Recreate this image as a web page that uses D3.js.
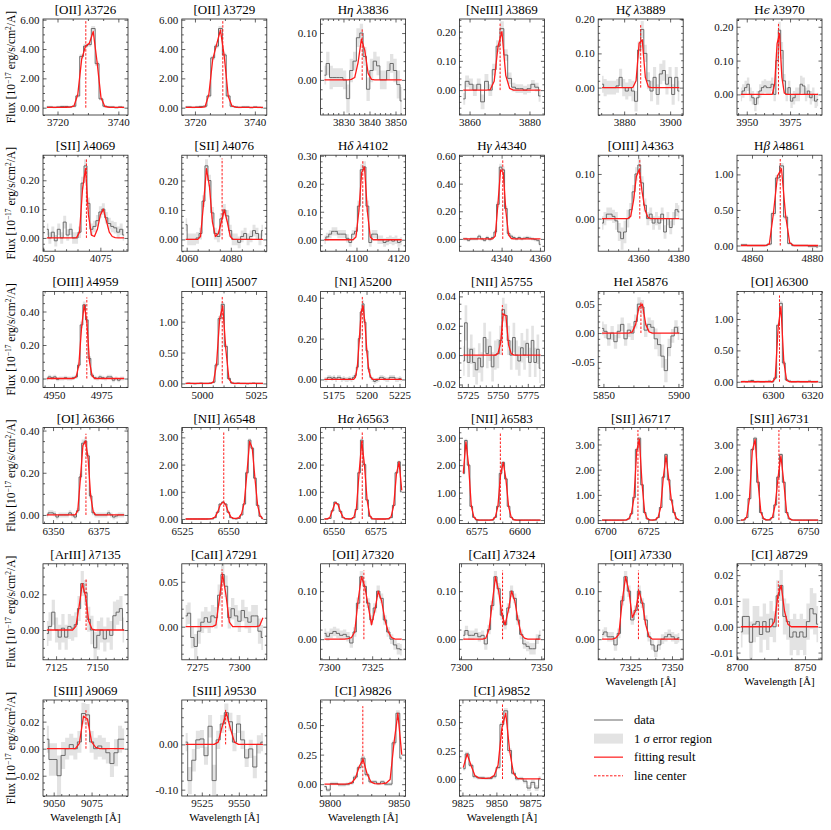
<!DOCTYPE html>
<meta charset="utf-8">
<head>
<script src="https://d3js.org/d3.v7.min.js"></script>
<style>
  body { margin: 0; background: white; }
  text { font-family: "Liberation Serif", "Times New Roman", serif; }
</style>
</head>
<body>
<div id="my_dataviz"></div>
<script>
// ---- line windows ----
const lineSpecies = ["[OII]","[OII]","Hη","[NeIII]","Hζ","Hϵ",
  "[SII]","[SII]","Hδ","Hγ","[OIII]","Hβ",
  "[OIII]","[OIII]","[NI]","[NII]","HeI","[OI]",
  "[OI]","[NII]","Hα","[NII]","[SII]","[SII]",
  "[ArIII]","[CaII]","[OII]","[CaII]","[OII]","[CI]",
  "[SIII]","[SIII]","[CI]","[CI]"];
const lineRest = ["3726","3729","3836","3869","3889","3970","4069","4076","4102","4340","4363","4861",
  "4959","5007","5200","5755","5876","6300","6366","6548","6563","6583","6717","6731",
  "7135","7291","7320","7324","7330","8729","9069","9530","9826","9852"];

// first wavelength and bin width of each spectrum cut-out [A]
const waveStart = [3716.5,3716.9,3822.7,3857.9,3870.4,3946.6,4051.6,4059.55,4084.7,4320,4342,4856.3,
  4946.2,4992.5,5168.1,5721.2,5849.1,6283.5,6346.6,6527.0,6544.6,6567.3,6698.1,6713.5,
  7119.4,7268.1,7297.4,7301.4,7308.1,8702.8,9045.5,9514.1,9796.1,9825.6];
const waveStep = [1.27,1.29,1.291,1.29,1.344,1.394,1.3,1.346,1.367,1.39,1.426,1.353,
  1.414,1.428,1.465,2.221,2.239,1.467,1.417,1.441,1.586,1.552,1.552,1.556,
  1.954,2.013,1.943,2.008,2.013,2.474,2.684,2.747,2.8,2.845];
const lineCenter = [3729.3,3729.3,3837.2,3870.2,3887.2,3968.3,4068.9,4076.05,4103.0,4340.6,4360.8,4869.4,
  4967.4,5009.4,5196.8,5753.8,5875.0,6303.3,6368.1,6547.6,6567.1,6588.9,6719.0,6734.2,
  7143.2,7289.9,7320.2,7325.9,7329.9,8730.4,9071.3,9541.1,9823.9,9854.5];

// flux [1e-17 erg/s/cm2/A]
const fluxData = [
  [0.05,0.05,0.02,0.05,0.08,0.08,0.05,0.10,0.8,3.5,4.2,4.3,5.4,3.0,0.6,0.1,0.05,0.05,0.0,0.05,0.02],
  [0.05,0.05,0.02,0.05,0.08,0.1,0.8,3.4,4.2,5.4,3.6,0.8,0.1,0.05,0.02,0.05,0.05,0.0,0.05,0.02,0.0],
  [0.01,0.035,0.005,0.005,0.005,0.005,0.0,-0.04,0.02,0.04,0.09,0.10,0.05,-0.02,0.02,0.04,0.03,0.0,0.0,0.02,0.035,0.02,-0.01,-0.045],
  [-0.03,0.03,0.02,0.0,0.02,-0.04,0.03,0.0,0.07,0.15,0.21,0.12,0.04,0.01,0.005,0.005,0.0,0.005,0.02,0.01,-0.02],
  [0.01,0.0,0.0,0.0,0.0,0.005,0.03,0.0,-0.01,0.0,-0.01,-0.04,0.11,0.17,0.10,0.02,-0.01,0.03,-0.02,0.04,0.05,0.01,0.03,-0.02,0.03,-0.01],
  [0.0,0.01,0.02,0.03,0.0,-0.01,-0.03,-0.01,0.01,0.02,0.025,0.02,0.02,0.03,0.0,0.1,0.19,0.13,0.04,0.0,0.02,-0.02,-0.01,0.0,0.0,0.03,0.025,0.0,0.01,-0.01,0.0,-0.02,-0.015],
  [0.03,0.0,0.02,-0.01,0.03,0.0,0.055,0.01,0.03,0.0,0.0,0.02,0.19,0.25,0.12,0.03,0.04,0.06,0.09,0.10,0.07,0.05,0.04,0.035,0.02,0.03,0.01],
  [0.05,0.0,0.0,0.0,0.005,0.02,0.13,0.25,0.20,0.09,0.02,0.01,0.07,0.10,0.08,0.03,0.0,0.0,-0.01,0.01,0.02,0.0,0.01,0.03,0.02,0.0,0.03],
  [0.0,0.01,0.02,0.03,0.03,0.02,0.02,0.02,0.005,-0.01,0.02,0.03,0.12,0.25,0.26,0.12,-0.01,0.02,0.02,0.0,0.0,-0.01,-0.005,0.0,-0.005,0.0,-0.01,-0.005],
  [0.0,0.0,-0.01,0.0,0.0,0.0,0.02,0.0,-0.01,0.01,-0.005,0.01,0.05,0.25,0.52,0.50,0.22,0.04,0.02,0.01,0.0,0.01,0.0,0.005,0.01,0.005,0.0,-0.005,-0.01,-0.04],
  [-0.01,0.0,0.01,0.01,0.005,-0.005,-0.03,-0.045,-0.03,0.0,0.02,0.06,0.10,0.12,0.08,0.03,0.0,0.01,-0.01,0.0,-0.01,0.01,-0.03,0.0,-0.02,0.0,0.02,0.015],
  [0.01,0.01,0.0,0.0,0.0,0.0,0.0,0.02,0.45,0.95,1.12,0.4,0.03,0.0,0.0,0.0,0.0,-0.01,-0.01,-0.02],
  [0.0,0.01,0.005,0.01,-0.005,0.0,0.0,0.005,0.0,0.0,0.005,0.01,0.08,0.32,0.44,0.35,0.12,0.02,0.005,0.0,0.01,0.005,0.0,0.01,0.01,-0.01,0.0,-0.01,0.0,0.0],
  [0.0,0.005,0.0,-0.005,0.0,0.005,0.0,0.0,0.005,0.02,0.3,1.05,1.28,0.6,0.08,0.01,0.0,0.005,0.0,0.0,-0.005,0.0,0.005,0.0,0.0,0.0],
  [0.0,0.0,0.01,0.01,0.005,0.01,0.0,0.01,0.01,0.0,0.005,0.0,0.0,0.005,0.0,0.01,0.02,0.06,0.2,0.33,0.37,0.28,0.14,0.05,0.01,0.0,-0.01,-0.005,0.0,0.01,0.01,0.005,0.0,0.0,0.01,0.01,0.01,0.0,0.0,0.005,0.0],
  [-0.004,0.022,-0.005,0.004,-0.005,-0.01,-0.002,-0.008,0.012,0.001,0.006,-0.008,0.0,0.001,0.01,0.031,0.027,0.01,0.0,0.012,0.0,-0.004,0.005,0.0,0.008,-0.005,0.01,-0.005,0.004,-0.009],
  [0.008,0.003,-0.01,0.0,-0.015,0.003,0.015,-0.01,0.005,0.0,0.02,0.05,0.045,0.005,0.015,0.01,-0.01,-0.02,-0.04,-0.065,-0.025,-0.005,0.01,0.0],
  [0.0,0.005,0.0,0.01,0.02,0.0,0.005,0.0,0.0,0.005,0.01,0.0,0.06,0.9,1.25,0.3,0.03,0.01,0.0,0.0,0.005,0.0,0.0,0.0,0.01,0.0,0.0,0.005],
  [0.0,0.01,0.01,0.005,-0.01,0.0,0.0,0.0,0.0,0.01,0.0,-0.01,0.02,0.18,0.34,0.35,0.28,0.09,0.01,0.0,0.0,0.0,0.0,0.0,0.01,0.0,-0.01,-0.005,0.0,0.0,0.0],
  [0.0,0.0,0.0,0.0,0.0,0.0,0.0,0.0,0.0,0.0,0.0,0.05,0.25,0.55,0.62,0.55,0.25,0.05,0.01,0.0,0.02,0.15,0.55,1.7,2.9,2.6,1.5,0.5,0.1,0.01],
  [0.0,0.0,0.02,0.3,0.62,0.55,0.28,0.05,0.0,0.0,0.0,0.05,0.35,1.7,2.9,2.0,0.7,0.1,0.0,0.0,0.0,0.0,0.0,0.0,0.0,0.05,0.5,1.7,2.1,1.0],
  [1.7,2.9,2.0,0.5,0.1,0.01,0.0,0.0,0.0,0.0,0.0,0.0,0.1,0.5,1.7,2.1,1.5,0.5,0.1,0.01,0.0,0.0,0.0,0.0,0.0,0.0,0.0,0.0,0.0,0.0],
  [0.0,0.0,0.0,0.0,0.0,0.0,0.0,0.0,0.0,0.0,0.05,0.25,0.9,2.8,3.25,1.4,0.3,0.05,0.0,0.0,0.0,0.1,0.5,1.7,2.6,1.6,0.8,0.3,0.05,0.0],
  [0.0,0.0,0.1,0.85,2.8,3.25,1.5,0.3,0.05,0.0,0.0,0.1,0.6,1.7,2.6,1.5,0.3,0.05,0.0,0.0,0.0,0.0,0.0,0.0,0.0,0.0,0.0,0.0],
  [-0.002,0.002,0.01,0.0,-0.004,0.001,-0.004,0.002,0.001,0.003,0.012,0.026,0.021,0.006,0.0,-0.01,-0.003,0.0,-0.005,0.0,-0.003,0.008,0.01,0.012,0.0],
  [0.012,0.015,-0.012,-0.022,-0.005,0.005,0.01,0.005,0.012,0.01,0.035,0.058,0.045,0.01,0.02,0.012,0.006,0.018,0.01,0.005,0.012,0.012,-0.005,-0.012],
  [0.012,0.006,0.012,0.016,0.012,0.008,0.01,0.005,-0.008,0.015,0.075,0.13,0.11,0.075,0.04,0.065,0.10,0.085,0.04,0.015,0.0,-0.012,-0.02,-0.022],
  [0.008,0.018,0.008,0.008,0.012,0.005,0.008,-0.01,0.02,0.07,0.13,0.105,0.05,0.03,0.065,0.10,0.085,0.04,0.01,-0.01,-0.015,-0.02,-0.02,0.0,0.008],
  [0.01,0.015,0.005,0.005,-0.012,0.012,0.08,0.13,0.10,0.04,0.06,0.10,0.075,0.04,0.005,-0.012,-0.025,-0.012,0.0,0.005,0.01,0.005,0.0,0.003],
  [-0.002,0.004,0.004,-0.006,0.001,0.002,-0.003,0.002,-0.002,0.003,0.0,0.012,0.016,0.004,0.002,-0.004,-0.002,-0.004,-0.002,-0.004,0.002,0.007,0.005,0.001],
  [0.007,-0.008,-0.008,-0.02,-0.005,0.0,0.003,0.0,0.005,0.026,0.025,0.005,0.0,0.002,0.0,-0.003,-0.011,-0.003,0.007,0.007],
  [0.005,-0.08,-0.035,0.01,0.012,-0.025,0.04,-0.08,0.01,0.045,0.07,0.05,0.005,0.045,0.01,-0.03,-0.01,-0.05,0.0,0.005],
  [-0.02,-0.05,0.005,0.005,-0.005,-0.005,0.0,0.01,0.06,0.14,0.22,0.08,0.02,0.02,0.005,0.02,0.0,0.0,0.35,0.6,0.22],
  [0.09,0.22,0.12,0.02,0.01,0.01,0.005,0.005,0.02,0.1,0.48,0.6,0.25,0.05,0.0,0.005,-0.02,-0.08,-0.03,-0.08,0.005]
];

// 1 sigma errors
const fluxErr = [
  [0.08,0.08,0.08,0.08,0.08,0.08,0.08,0.08,0.1,0.15,0.15,0.15,0.18,0.15,0.1,0.08,0.08,0.08,0.08,0.08,0.08],
  [0.08,0.08,0.08,0.08,0.08,0.08,0.1,0.15,0.15,0.18,0.15,0.1,0.08,0.08,0.08,0.08,0.08,0.08,0.08,0.08,0.08],
  [0.02,0.025,0.025,0.02,0.02,0.02,0.02,0.03,0.025,0.02,0.02,0.02,0.02,0.025,0.025,0.02,0.02,0.02,0.02,0.02,0.02,0.025,0.03,0.03],
  [0.02,0.02,0.02,0.02,0.02,0.025,0.025,0.02,0.02,0.02,0.025,0.02,0.02,0.015,0.015,0.015,0.015,0.015,0.015,0.015,0.02],
  [0.025,0.025,0.02,0.02,0.02,0.02,0.025,0.025,0.025,0.025,0.03,0.03,0.025,0.025,0.025,0.025,0.03,0.03,0.03,0.03,0.03,0.03,0.03,0.03,0.03,0.03],
  [0.02,0.02,0.02,0.02,0.02,0.02,0.02,0.02,0.02,0.02,0.02,0.02,0.02,0.02,0.02,0.025,0.025,0.025,0.02,0.02,0.02,0.02,0.02,0.02,0.02,0.025,0.025,0.02,0.02,0.02,0.02,0.02,0.02],
  [0.02,0.02,0.02,0.02,0.02,0.02,0.022,0.02,0.02,0.02,0.02,0.02,0.022,0.022,0.02,0.02,0.02,0.02,0.02,0.02,0.02,0.02,0.02,0.02,0.02,0.02,0.02],
  [0.022,0.02,0.02,0.02,0.02,0.02,0.02,0.022,0.02,0.02,0.02,0.02,0.02,0.02,0.02,0.02,0.02,0.02,0.02,0.02,0.02,0.02,0.02,0.02,0.02,0.02,0.02],
  [0.015,0.015,0.015,0.015,0.015,0.015,0.015,0.015,0.015,0.015,0.015,0.015,0.02,0.02,0.02,0.02,0.015,0.015,0.015,0.015,0.015,0.015,0.015,0.015,0.015,0.015,0.015,0.015],
  [0.012,0.012,0.012,0.012,0.012,0.012,0.012,0.012,0.012,0.012,0.012,0.012,0.015,0.02,0.025,0.025,0.02,0.015,0.012,0.012,0.012,0.012,0.012,0.012,0.012,0.012,0.012,0.012,0.012,0.015],
  [0.015,0.015,0.015,0.015,0.015,0.02,0.02,0.025,0.025,0.02,0.015,0.015,0.015,0.015,0.015,0.015,0.015,0.015,0.015,0.015,0.015,0.015,0.015,0.015,0.015,0.015,0.015,0.015],
  [0.02,0.02,0.02,0.02,0.02,0.02,0.02,0.02,0.03,0.04,0.04,0.03,0.02,0.02,0.02,0.02,0.02,0.02,0.02,0.02],
  [0.012,0.012,0.012,0.012,0.012,0.012,0.012,0.012,0.012,0.012,0.012,0.012,0.015,0.02,0.02,0.02,0.015,0.012,0.012,0.012,0.012,0.012,0.012,0.012,0.012,0.012,0.012,0.012,0.012,0.012],
  [0.02,0.02,0.02,0.02,0.02,0.02,0.02,0.02,0.02,0.02,0.03,0.04,0.04,0.03,0.02,0.02,0.02,0.02,0.02,0.02,0.02,0.02,0.02,0.02,0.02,0.02],
  [0.012,0.012,0.012,0.012,0.012,0.012,0.012,0.012,0.012,0.012,0.012,0.012,0.012,0.012,0.012,0.012,0.012,0.012,0.015,0.018,0.018,0.015,0.012,0.012,0.012,0.012,0.012,0.012,0.012,0.012,0.012,0.012,0.012,0.012,0.012,0.012,0.012,0.012,0.012,0.012,0.012],
  [0.01,0.012,0.01,0.01,0.01,0.01,0.01,0.01,0.01,0.01,0.01,0.01,0.01,0.01,0.01,0.008,0.008,0.01,0.01,0.01,0.01,0.01,0.01,0.01,0.01,0.01,0.01,0.01,0.01,0.01],
  [0.012,0.012,0.012,0.012,0.012,0.012,0.012,0.012,0.012,0.012,0.012,0.012,0.012,0.012,0.012,0.012,0.018,0.02,0.02,0.02,0.015,0.012,0.012,0.012],
  [0.02,0.02,0.02,0.02,0.02,0.02,0.02,0.02,0.02,0.02,0.02,0.02,0.02,0.03,0.04,0.03,0.02,0.02,0.02,0.02,0.02,0.02,0.02,0.02,0.02,0.02,0.02,0.02],
  [0.012,0.012,0.012,0.012,0.012,0.012,0.012,0.012,0.012,0.012,0.012,0.012,0.012,0.015,0.018,0.018,0.015,0.012,0.012,0.012,0.012,0.012,0.012,0.012,0.012,0.012,0.012,0.012,0.012,0.012,0.012],
  [0.02,0.02,0.02,0.02,0.02,0.02,0.02,0.02,0.02,0.02,0.02,0.02,0.02,0.03,0.03,0.03,0.02,0.02,0.02,0.02,0.02,0.02,0.03,0.05,0.06,0.05,0.04,0.02,0.02,0.02],
  [0.02,0.02,0.02,0.02,0.03,0.03,0.02,0.02,0.02,0.02,0.02,0.02,0.02,0.05,0.06,0.05,0.03,0.02,0.02,0.02,0.02,0.02,0.02,0.02,0.02,0.02,0.02,0.05,0.05,0.04],
  [0.05,0.06,0.05,0.02,0.02,0.02,0.02,0.02,0.02,0.02,0.02,0.02,0.02,0.02,0.05,0.05,0.04,0.02,0.02,0.02,0.02,0.02,0.02,0.02,0.02,0.02,0.02,0.02,0.02,0.02],
  [0.02,0.02,0.02,0.02,0.02,0.02,0.02,0.02,0.02,0.02,0.02,0.02,0.03,0.06,0.06,0.04,0.02,0.02,0.02,0.02,0.02,0.02,0.02,0.05,0.06,0.04,0.03,0.02,0.02,0.02],
  [0.02,0.02,0.02,0.03,0.06,0.06,0.04,0.02,0.02,0.02,0.02,0.02,0.02,0.05,0.06,0.04,0.02,0.02,0.02,0.02,0.02,0.02,0.02,0.02,0.02,0.02,0.02,0.02],
  [0.007,0.008,0.007,0.007,0.007,0.008,0.007,0.007,0.007,0.007,0.007,0.007,0.007,0.007,0.008,0.009,0.008,0.007,0.007,0.007,0.008,0.008,0.007,0.007,0.007],
  [0.012,0.012,0.012,0.014,0.014,0.012,0.012,0.012,0.012,0.012,0.012,0.012,0.012,0.012,0.012,0.012,0.012,0.012,0.012,0.012,0.012,0.012,0.014,0.014],
  [0.01,0.01,0.01,0.01,0.01,0.01,0.01,0.01,0.01,0.01,0.012,0.012,0.012,0.01,0.01,0.01,0.012,0.01,0.01,0.01,0.01,0.01,0.012,0.012],
  [0.01,0.01,0.01,0.01,0.01,0.01,0.01,0.012,0.01,0.01,0.012,0.012,0.01,0.01,0.01,0.012,0.01,0.01,0.01,0.01,0.01,0.012,0.012,0.01,0.01],
  [0.01,0.01,0.01,0.01,0.012,0.01,0.01,0.012,0.012,0.01,0.01,0.012,0.01,0.01,0.01,0.01,0.012,0.01,0.01,0.01,0.01,0.01,0.01,0.01],
  [0.006,0.007,0.007,0.008,0.007,0.006,0.007,0.007,0.007,0.007,0.006,0.006,0.006,0.007,0.007,0.007,0.007,0.007,0.007,0.007,0.007,0.008,0.008,0.007],
  [0.01,0.012,0.012,0.015,0.01,0.008,0.008,0.008,0.008,0.008,0.008,0.008,0.008,0.008,0.008,0.008,0.01,0.01,0.01,0.008],
  [0.02,0.03,0.025,0.02,0.02,0.02,0.025,0.035,0.02,0.02,0.02,0.02,0.02,0.02,0.02,0.02,0.02,0.025,0.02,0.02],
  [0.015,0.015,0.015,0.015,0.015,0.015,0.015,0.015,0.015,0.015,0.02,0.015,0.015,0.015,0.015,0.015,0.015,0.015,0.02,0.025,0.02],
  [0.015,0.02,0.015,0.015,0.015,0.015,0.015,0.015,0.015,0.015,0.02,0.025,0.02,0.015,0.015,0.015,0.02,0.025,0.025,0.025,0.02]
];

// best-fit model at each bin
const fitData = [
  [0.02,0.02,0.02,0.02,0.02,0.03,0.04,0.1,0.9,3.3,4.2,4.4,5.2,3.1,0.7,0.08,0.03,0.02,0.02,0.02,0.02],
  [0.02,0.02,0.02,0.02,0.03,0.05,0.9,3.3,4.3,5.3,3.5,0.8,0.1,0.03,0.02,0.02,0.02,0.02,0.02,0.02,0.02],
  [0,0,0,0,0,0,0,0,0.001,0.005,0.037,0.087,0.063,0.014,0.001,0,0,0,0,0,0,0,0,0],
  [0,0,0,0,0,0,0,0.002,0.03,0.15,0.2,0.05,0.006,0,0,0,0,0,0,0,0],
  [0,0,0,0,0,0,0,0,0,0,0.001,0.02,0.13,0.14,0.03,0.002,0,0,0,0,0,0,0,0,0,0],
  [0,0,0,0,0,0,0,0,0,0,0,0,0,0,0.03,0.15,0.18,0.05,0.004,0,0,0,0,0,0,0,0,0,0,0,0,0,0],
  [0,0,0,0,0,0,0,0,0,0,0.001,0.02,0.17,0.24,0.08,0.01,0.005,0.03,0.08,0.10,0.06,0.02,0.005,0.001,0,0,0],
  [0,0,0,0,0,0.01,0.12,0.24,0.18,0.06,0.01,0.02,0.06,0.10,0.06,0.01,0,0,0,0,0,0,0,0,0,0,0],
  [0,0,0,0,0,0,0,0,0,0,0,0.01,0.1,0.24,0.26,0.1,0.01,0,0,0,0,0,0,0,0,0,0,0],
  [0,0,0,0,0,0,0,0,0,0,0,0,0.02,0.25,0.5,0.48,0.2,0.03,0.003,0,0,0,0,0,0,0,0,0,0,0],
  [0,0,0,0,0,0,0,0,0,0,0.005,0.04,0.095,0.11,0.06,0.02,0.003,0,0,0,0,0,0,0,0,0,0,0],
  [0,0,0,0,0,0,0,0.02,0.45,0.98,1.08,0.42,0.04,0,0,0,0,0,0,0],
  [0,0,0,0,0,0,0,0,0,0,0,0.01,0.08,0.3,0.44,0.34,0.1,0.015,0,0,0,0,0,0,0,0,0,0,0,0],
  [0,0,0,0,0,0,0,0,0.002,0.02,0.32,1.05,1.25,0.55,0.07,0.005,0,0,0,0,0,0,0,0,0,0],
  [0,0,0,0,0,0,0,0,0,0,0,0,0,0,0,0,0.01,0.06,0.19,0.33,0.36,0.27,0.13,0.04,0.01,0,0,0,0,0,0,0,0,0,0,0,0,0,0,0,0],
  [0,0,0,0,0,0,0,0,0,0,0,0,0,0.001,0.008,0.028,0.027,0.007,0.001,0,0,0,0,0,0,0,0,0,0,0],
  [0,0,0,0,0,0,0,0,0,0.002,0.015,0.045,0.05,0.015,0.002,0,0,0,0,0,0,0,0,0],
  [0,0,0,0,0,0,0,0,0,0,0,0,0.05,0.85,1.2,0.32,0.02,0,0,0,0,0,0,0,0,0,0,0],
  [0,0,0,0,0,0,0,0,0,0,0,0,0.02,0.17,0.33,0.35,0.27,0.09,0.015,0,0,0,0,0,0,0,0,0,0,0,0],
  [0,0,0,0,0,0,0,0,0,0.005,0.02,0.07,0.25,0.52,0.62,0.53,0.26,0.07,0.02,0.02,0.05,0.2,0.6,1.7,2.85,2.6,1.5,0.5,0.1,0.01],
  [0,0.005,0.05,0.32,0.6,0.55,0.27,0.06,0.01,0,0.005,0.06,0.4,1.7,2.85,2.0,0.7,0.12,0.01,0,0,0,0,0,0.01,0.08,0.5,1.65,2.1,1.05],
  [1.7,2.85,2.0,0.52,0.1,0.01,0,0,0,0,0,0.01,0.1,0.5,1.65,2.1,1.5,0.5,0.1,0.01,0,0,0,0,0,0,0,0,0,0],
  [0,0,0,0,0,0,0,0,0,0.01,0.05,0.25,0.9,2.75,3.2,1.45,0.3,0.05,0.01,0,0.02,0.1,0.5,1.7,2.55,1.65,0.8,0.3,0.05,0.01],
  [0,0.01,0.1,0.85,2.75,3.2,1.5,0.3,0.05,0.01,0.02,0.1,0.6,1.7,2.55,1.5,0.3,0.05,0.01,0,0,0,0,0,0,0,0,0],
  [0,0,0,0,0,0,0,0,0,0.002,0.013,0.026,0.019,0.005,0.0005,0,0,0,0,0,0,0,0,0,0],
  [0,0,0,0,0,0,0,0,0,0.002,0.03,0.058,0.035,0.005,0,0,0,0,0,0,0,0,0.001,0.01],
  [0,0,0,0,0,0,0,0.001,0.003,0.015,0.08,0.13,0.11,0.07,0.03,0.06,0.10,0.08,0.04,0.015,0.003,0,0,0],
  [0,0,0,0,0,0,0,0.002,0.02,0.075,0.13,0.1,0.05,0.03,0.06,0.1,0.08,0.04,0.01,0.002,0,0,0,0,0],
  [0,0,0,0,0.002,0.01,0.08,0.13,0.1,0.045,0.06,0.1,0.075,0.03,0.005,0,0,0,0,0,0,0,0,0],
  [0,0,0,0,0,0,0,0,0,0,0.002,0.012,0.016,0.006,0.001,0,0,0,0,0,0,0,0,0],
  [0,0,0,0,0,0,0,0,0.004,0.024,0.022,0.005,0.001,0,0,0,0,0,0,0],
  [0,0,0,0,0,0,0,0,0.005,0.04,0.07,0.035,0.005,0,0,0,0,0,0,0],
  [0,0,0,0,0,0,0.002,0.01,0.05,0.15,0.21,0.09,0.02,0.005,0.003,0.005,0.01,0.04,0.35,0.6,0.25],
  [0.1,0.22,0.12,0.03,0.01,0.005,0.005,0.01,0.03,0.12,0.45,0.58,0.25,0.05,0.005,0,0,0,0,0,0]
];

// axis ticks and limits
const xTickValues = [[3720,3740],[3720,3740],[3830,3840,3850],[3860,3880],[3880,3900],[3950,3975],
  [4050,4075],[4060,4080],[4100,4120],[4340,4360],[4360,4380],[4860,4880],
  [4950,4975],[5000,5025],[5175,5200,5225],[5725,5750,5775],[5850,5900],[6300,6320],
  [6350,6375],[6525,6550],[6550,6575],[6575,6600],[6700,6725],[6725,6750],
  [7125,7150],[7275,7300],[7300,7325],[7300,7350],[7325,7350],[8700,8750],
  [9050,9075],[9525,9550],[9800,9850],[9825,9850,9875]];
const yTickValues = [[0,2,4,6],[0,2,4,6],[0,0.1],[0,0.1,0.2],[0,0.1,0.2],[0,0.1,0.2],
  [0,0.1,0.2],[0,0.1,0.2],[0,0.1,0.2,0.3],[0,0.2,0.4,0.6],[0,0.1],[0,0.5,1.0],
  [0,0.2,0.4],[0,0.5,1.0],[0,0.2,0.4],[-0.02,0,0.02,0.04],[-0.05,0,0.05],[0,0.5,1.0],
  [0,0.2,0.4],[0,1,2,3],[0,1,2,3],[0,1,2,3],[0,1,2,3],[0,1,2,3],
  [0,0.02],[0,0.05],[0,0.1],[0,0.1],[0,0.1],[-0.01,0,0.01,0.02],
  [-0.02,0,0.02],[-0.1,0],[0,0.25,0.5],[0,0.25,0.5]];
const yLimits = [[-0.5,6.05],[-0.5,6.05],[-0.075,0.13],[-0.085,0.243],[-0.08,0.2005],[-0.061,0.223],
  [-0.046,0.287],[-0.04,0.286],[-0.041,0.302],[-0.089,0.606],[-0.073,0.142],[-0.08,1.27],
  [-0.053,0.52],[-0.064,1.49],[-0.039,0.431],[-0.022,0.0434],[-0.094,0.072],[-0.09,1.44],
  [-0.041,0.414],[-0.17,3.36],[-0.17,3.36],[-0.13,3.37],[-0.14,3.67],[-0.14,3.67],
  [-0.0167,0.0371],[-0.0368,0.0699],[-0.043,0.157],[-0.043,0.157],[-0.043,0.157],[-0.0128,0.0244],
  [-0.035,0.036],[-0.114,0.098],[-0.1,0.712],[-0.15,0.695]];

const legendItems = ["data", "1 σ error region", "fitting result", "line center"];

// ---- layout ----
const width = 831, height = 830;
const panelW = 85, panelH = 96;
const colLeft = c => 43 + c * 138.8;
const rowTop = r => 19 + r * 136.2;
const serif = "'Liberation Serif', 'Times New Roman', serif";
const dataColor = "#5e5e5e", errColor = "#e3e3e3", fitColor = "#ff1a1a";

const svg = d3.select("#my_dataviz").append("svg")
  .attr("width", width).attr("height", height)
  .style("background-color", "white");

function minorTicks(domain, major) {
  const step = major[1] - major[0];
  const e = Math.pow(10, Math.floor(Math.log10(step) + 1e-9));
  const m = step / e;
  const n = [1, 2.5, 5, 10].some(v => Math.abs(m - v) < 1e-6) ? 5 : 4;
  const ms = step / n;
  const out = [];
  for (let k = Math.ceil(domain[0] / ms - 1e-9); k * ms <= domain[1] + 1e-9; k++) {
    const v = k * ms;
    if (Math.abs(v / step - Math.round(v / step)) > 1e-6) out.push(v);
  }
  return out;
}

// greek letters in italics, like LaTeX math
function addMixed(sel, str) {
  for (const ch of str) {
    const isGreek = /[\u0370-\u03ff]/.test(ch);
    const t = sel.append("tspan").style("font-style", isGreek ? "italic" : "normal").text(ch);
    if (ch === "ϵ") t.attr("font-family", "'DejaVu Serif', serif").attr("font-size", "0.85em");
  }
}

function styleAxis(g) {
  g.select(".domain").remove();
  g.attr("font-family", serif).attr("font-size", 11);
  g.selectAll(".tick line").attr("stroke", "#222").attr("stroke-width", 0.7);
  g.selectAll(".tick text").attr("fill", "#111");
}

lineSpecies.forEach((species, i) => {
  const col = i % 6, row = Math.floor(i / 6);
  const left = colLeft(col), top = rowTop(row);
  const flux = fluxData[i], err = fluxErr[i], fit = fitData[i];
  const waves = flux.map((f, k) => waveStart[i] + k * waveStep[i]);
  const span = waves[waves.length - 1] - waves[0];

  const x = d3.scaleLinear()
    .domain([waves[0] - 0.05 * span, waves[waves.length - 1] + 0.05 * span])
    .range([0, panelW]);
  const y = d3.scaleLinear().domain(yLimits[i]).range([panelH, 0]);

  const g = svg.append("g").attr("transform", `translate(${left},${top})`);

  g.append("clipPath").attr("id", `clip${i}`)
    .append("rect").attr("width", panelW).attr("height", panelH);
  const body = g.append("g").attr("clip-path", `url(#clip${i})`);

  const pts = waves.map((w, k) => ({ w: w, f: flux[k], e: err[k], m: fit[k] }));

  body.append("path").datum(pts)
    .attr("fill", errColor)
    .attr("d", d3.area().curve(d3.curveStep)
      .x(d => x(d.w)).y0(d => y(d.f - d.e)).y1(d => y(d.f + d.e)));

  body.append("path").datum(pts)
    .attr("fill", "none").attr("stroke", dataColor).attr("stroke-width", 0.9)
    .attr("d", d3.line().curve(d3.curveStep).x(d => x(d.w)).y(d => y(d.f)));

  body.append("path").datum(pts)
    .attr("fill", "none").attr("stroke", fitColor).attr("stroke-width", 1.3)
    .attr("stroke-linejoin", "round")
    .attr("d", d3.line().x(d => x(d.w)).y(d => y(d.m)));

  body.append("line")
    .attr("x1", x(lineCenter[i])).attr("x2", x(lineCenter[i]))
    .attr("y1", y(0)).attr("y2", y(1.1 * d3.max(flux)))
    .attr("stroke", fitColor).attr("stroke-width", 1)
    .attr("stroke-dasharray", "2.5,1.5");

  // axes, ticks pointing inwards on all four sides
  const xt = xTickValues[i].filter(v => v >= x.domain()[0] && v <= x.domain()[1]);
  const yt = yTickValues[i];
  const xm = minorTicks(x.domain(), xt);
  const ym = minorTicks(y.domain(), yt);

  g.append("g").attr("transform", `translate(0,${panelH})`)
    .call(d3.axisBottom(x).tickValues(xt).tickSize(-3.5).tickPadding(3.5).tickFormat(d3.format("d")))
    .call(styleAxis);
  g.append("g").attr("transform", `translate(0,${panelH})`)
    .call(d3.axisBottom(x).tickValues(xm).tickSize(-2).tickFormat(""))
    .call(styleAxis);
  g.append("g")
    .call(d3.axisTop(x).tickValues(xt).tickSize(-3.5).tickFormat(""))
    .call(styleAxis);
  g.append("g")
    .call(d3.axisTop(x).tickValues(xm).tickSize(-2).tickFormat(""))
    .call(styleAxis);
  g.append("g")
    .call(d3.axisLeft(y).tickValues(yt).tickSize(-3.5).tickPadding(3.5).tickFormat(v => v.toFixed(2)))
    .call(styleAxis);
  g.append("g")
    .call(d3.axisLeft(y).tickValues(ym).tickSize(-2).tickFormat(""))
    .call(styleAxis);
  g.append("g").attr("transform", `translate(${panelW},0)`)
    .call(d3.axisRight(y).tickValues(yt).tickSize(-3.5).tickFormat(""))
    .call(styleAxis);
  g.append("g").attr("transform", `translate(${panelW},0)`)
    .call(d3.axisRight(y).tickValues(ym).tickSize(-2).tickFormat(""))
    .call(styleAxis);

  g.append("rect")
    .attr("width", panelW).attr("height", panelH)
    .attr("fill", "none").attr("stroke", "#222").attr("stroke-width", 0.8);

  // title
  const title = g.append("text")
    .attr("x", panelW / 2).attr("y", -5)
    .attr("text-anchor", "middle")
    .attr("font-family", serif).attr("font-size", 13);
  addMixed(title, species);
  title.append("tspan").text(" ");
  title.append("tspan").style("font-style", "italic").text("λ");
  title.append("tspan").text(lineRest[i]);

  // x label on the lowest panel of each column
  if (i >= 28) {
    g.append("text")
      .attr("x", panelW / 2).attr("y", panelH + 25)
      .attr("text-anchor", "middle")
      .attr("font-family", serif).attr("font-size", 11)
      .text("Wavelength [Å]");
  }

  // y label on the first column
  if (col === 0) {
    const yl = svg.append("text")
      .attr("transform", `translate(15,${top + panelH / 2}) rotate(-90)`)
      .attr("text-anchor", "middle")
      .attr("font-family", serif).attr("font-size", 11.5);
    yl.append("tspan").text("Flux [10");
    yl.append("tspan").attr("dy", -4).attr("font-size", 7.5).text("−17");
    yl.append("tspan").attr("dy", 4).text(" erg/s/cm");
    yl.append("tspan").attr("dy", -4).attr("font-size", 7.5).text("2");
    yl.append("tspan").attr("dy", 4).text("/A]");
  }
});

// ---- legend, centred vertically on the empty bottom row ----
const legend = svg.append("g").attr("transform", "translate(594,720)");
legendItems.forEach((label, k) => {
  const gy = k * 18.6;
  if (k === 0) {
    legend.append("line").attr("x1", 0).attr("x2", 29).attr("y1", gy).attr("y2", gy)
      .attr("stroke", "#8a8a8a").attr("stroke-width", 1.3);
  } else if (k === 1) {
    legend.append("rect").attr("x", 0).attr("y", gy - 5).attr("width", 29).attr("height", 10)
      .attr("fill", errColor);
  } else if (k === 2) {
    legend.append("line").attr("x1", 0).attr("x2", 29).attr("y1", gy).attr("y2", gy)
      .attr("stroke", fitColor).attr("stroke-opacity", 0.75).attr("stroke-width", 1.6);
  } else {
    legend.append("line").attr("x1", 0).attr("x2", 29).attr("y1", gy).attr("y2", gy)
      .attr("stroke", fitColor).attr("stroke-width", 1).attr("stroke-dasharray", "2.5,1.5");
  }
  const t = legend.append("text")
    .attr("x", 40).attr("y", gy).attr("dy", "0.33em")
    .attr("font-family", serif).attr("font-size", 12.5);
  addMixed(t, label);
});
</script>
</body>
